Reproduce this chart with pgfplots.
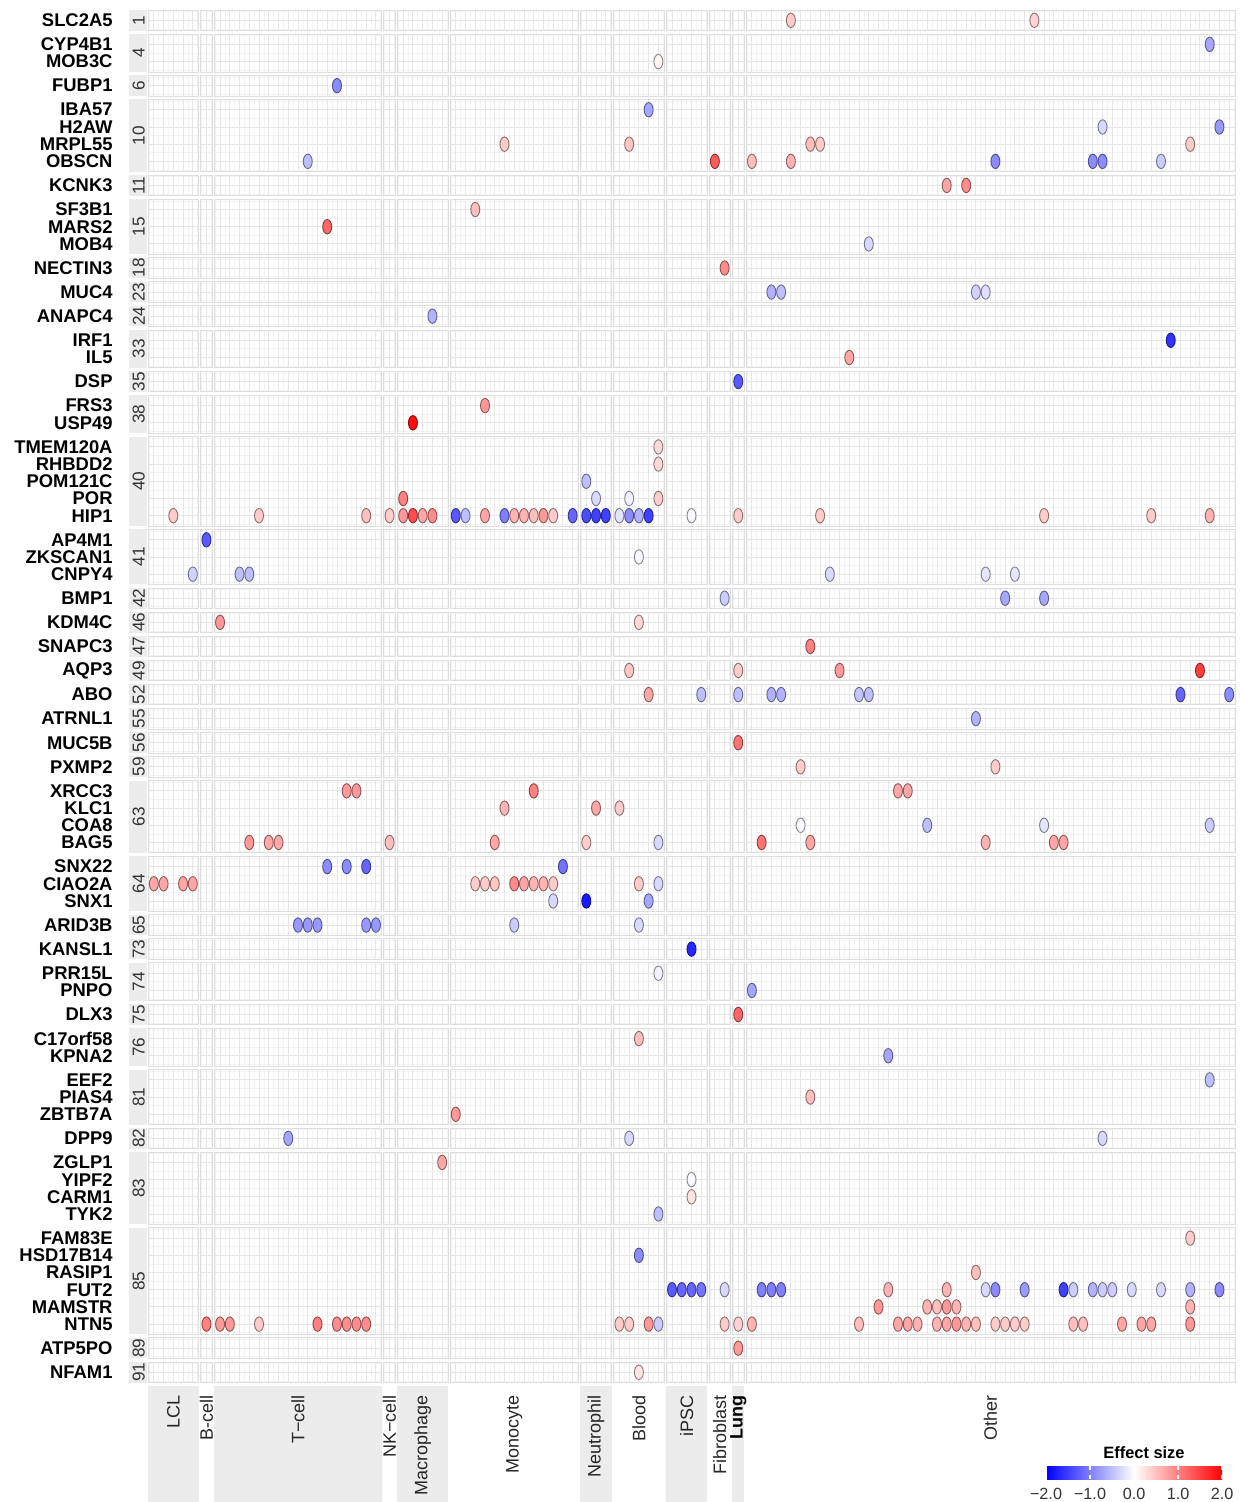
\documentclass[border=0pt]{standalone}
\usepackage{fontspec}
\setmainfont{Liberation Sans}
\usepackage{pgfplots}
\usepackage{pgfplotstable}
\pgfplotsset{compat=1.18}

\definecolor{stripgray}{RGB}{236,236,236}
\definecolor{gridmaj}{RGB}{230,230,230}
\definecolor{gridmin}{RGB}{243,243,243}
\definecolor{panelline}{RGB}{222,222,222}

% column index -> horizontal position (each cell-type group padded by 0.6 and separated by 0.2)
\pgfmathdeclarefunction{colpos}{1}{%
  \pgfmathparse{#1+0.6+0.4*((#1>4.5)+(#1>5.5)+(#1>22.5)+(#1>23.5)+(#1>28.5)+(#1>41.5)+(#1>44.5)+(#1>49.5)+(#1>53.5)+(#1>55.5)+(#1>56.5))}%
}
% gene index -> vertical position (each locus panel padded the same way)
\pgfmathdeclarefunction{rowpos}{1}{%
  \pgfmathparse{#1+0.6+0.4*((#1>0.5)+(#1>2.5)+(#1>3.5)+(#1>7.5)+(#1>8.5)+(#1>11.5)+(#1>12.5)+(#1>13.5)+(#1>14.5)+(#1>16.5)+(#1>17.5)+(#1>19.5)+(#1>24.5)+(#1>27.5)+(#1>28.5)+(#1>29.5)+(#1>30.5)+(#1>31.5)+(#1>32.5)+(#1>33.5)+(#1>34.5)+(#1>35.5)+(#1>39.5)+(#1>42.5)+(#1>43.5)+(#1>44.5)+(#1>46.5)+(#1>47.5)+(#1>49.5)+(#1>52.5)+(#1>53.5)+(#1>57.5)+(#1>63.5)+(#1>64.5))}%
}

% effect sizes: c = cell-type column, r = gene row, v = effect size
\pgfplotstableread{
c r v
61 0 0.4
86 0 0.35
104 1 -0.7
49 2 0.08
18 3 -0.9
48 4 -0.7
93 5 -0.3
105 5 -0.8
34 6 0.4
46 6 0.45
63 6 0.5
64 6 0.4
102 6 0.4
15 7 -0.5
54 7 1.3
57 7 0.5
61 7 0.6
82 7 -0.9
92 7 -0.9
93 7 -0.9
99 7 -0.4
77 8 0.7
79 8 0.9
31 9 0.5
17 10 1.2
69 11 -0.3
55 12 0.9
59 13 -0.6
60 13 -0.5
80 13 -0.35
81 13 -0.25
27 14 -0.6
100 15 -1.6
67 16 0.7
56 17 -1.3
32 18 0.8
25 19 1.9
49 20 0.3
49 21 0.3
42 22 -0.5
24 23 1.0
43 23 -0.3
46 23 -0.1
49 23 0.4
2 24 0.4
10 24 0.4
21 24 0.5
23 24 0.4
24 24 0.8
25 24 1.4
26 24 0.7
27 24 0.9
29 24 -1.3
30 24 -0.5
32 24 0.7
34 24 -1.0
35 24 0.6
36 24 0.6
37 24 0.5
38 24 0.8
39 24 0.4
41 24 -1.2
42 24 -1.4
43 24 -1.5
44 24 -1.5
45 24 -0.2
46 24 -0.9
47 24 -0.6
48 24 -1.5
52 24 -0.05
56 24 0.4
64 24 0.4
87 24 0.4
98 24 0.4
104 24 0.6
5 25 -1.3
47 26 -0.05
4 27 -0.35
8 27 -0.5
9 27 -0.5
65 27 -0.3
81 27 -0.2
84 27 -0.2
55 28 -0.4
83 28 -0.7
87 28 -0.7
6 29 0.8
47 29 0.3
63 30 1.0
46 31 0.45
56 31 0.4
66 31 0.8
103 31 1.5
48 32 0.7
53 32 -0.5
56 32 -0.5
59 32 -0.6
60 32 -0.6
68 32 -0.45
69 32 -0.5
101 32 -1.2
106 32 -0.9
80 33 -0.6
56 34 1.1
62 35 0.4
82 35 0.4
19 36 0.8
20 36 0.8
37 36 1.0
72 36 0.7
73 36 0.7
34 37 0.6
43 37 0.7
45 37 0.4
62 38 -0.05
75 38 -0.5
87 38 -0.2
104 38 -0.4
9 39 0.8
11 39 0.7
12 39 0.7
23 39 0.5
33 39 0.7
42 39 0.4
49 39 -0.3
58 39 1.1
63 39 0.7
81 39 0.6
88 39 0.7
89 39 0.7
17 40 -0.9
19 40 -0.9
21 40 -1.2
40 40 -1.1
0 41 0.7
1 41 0.7
3 41 0.7
4 41 0.7
31 41 0.4
32 41 0.4
33 41 0.45
35 41 0.9
36 41 0.7
37 41 0.6
38 41 0.6
39 41 0.4
47 41 0.4
49 41 -0.3
39 42 -0.3
42 42 -1.8
48 42 -0.7
14 43 -0.8
15 43 -0.8
16 43 -0.8
21 43 -0.8
22 43 -0.8
35 43 -0.4
47 43 -0.3
52 44 -1.7
49 45 -0.1
57 46 -0.7
56 47 1.2
47 48 0.5
71 49 -0.7
104 50 -0.5
63 51 0.5
29 52 0.8
13 53 -0.7
46 53 -0.3
93 53 -0.3
28 54 0.7
52 55 -0.05
52 56 0.2
49 57 -0.5
102 58 0.4
47 59 -0.9
80 60 0.5
50 61 -1.3
51 61 -1.2
52 61 -1.2
53 61 -1.1
55 61 -0.3
58 61 -1.0
59 61 -1.0
60 61 -1.0
71 61 0.6
77 61 0.6
81 61 -0.3
82 61 -0.9
85 61 -0.8
89 61 -1.5
90 61 -0.4
92 61 -0.6
93 61 -0.4
94 61 -0.4
96 61 -0.3
99 61 -0.3
102 61 -0.6
105 61 -0.9
70 62 0.8
75 62 0.6
76 62 0.5
77 62 0.8
78 62 0.6
102 62 0.6
5 63 1.0
6 63 0.8
7 63 0.8
10 63 0.4
16 63 1.0
18 63 0.9
19 63 0.9
20 63 0.9
21 63 0.9
45 63 0.4
46 63 0.4
48 63 0.8
49 63 -0.4
55 63 0.4
56 63 0.35
57 63 0.6
68 63 0.5
72 63 0.7
73 63 0.7
74 63 0.6
76 63 0.6
77 63 0.7
78 63 0.8
79 63 0.6
80 63 0.5
82 63 0.4
83 63 0.4
84 63 0.4
85 63 0.4
90 63 0.5
91 63 0.5
95 63 0.7
97 63 0.7
98 63 0.7
102 63 0.8
56 64 0.8
47 65 0.2
}\effects

\begin{document}
\begin{tikzpicture}
\useasboundingbox (0,0) rectangle (619.5pt,-751pt);

\begin{scope}[shift={(74pt,-5pt)}, x=4.87pt, y=-8.6pt]
  % background grid
  \foreach \c in {0,...,106} {
    \pgfmathsetmacro\u{colpos(\c)}
    \draw[gridmin, line width=0.35pt] (\u-0.5,0) -- (\u-0.5,79.8);
    \draw[gridmin, line width=0.35pt] (\u+0.5,0) -- (\u+0.5,79.8);
  }
  \foreach \r in {0,...,65} {
    \pgfmathsetmacro\v{rowpos(\r)}
    \draw[gridmin, line width=0.35pt] (0,\v-0.5) -- (111.6,\v-0.5);
    \draw[gridmin, line width=0.35pt] (0,\v+0.5) -- (111.6,\v+0.5);
  }
  \foreach \c in {0,...,106} {
    \pgfmathsetmacro\u{colpos(\c)}
    \draw[gridmaj, line width=0.45pt] (\u,0) -- (\u,79.8);
  }
  \foreach \r in {0,...,65} {
    \pgfmathsetmacro\v{rowpos(\r)}
    \draw[gridmaj, line width=0.45pt] (0,\v) -- (111.6,\v);
  }
  % gaps between panels
  \foreach \g in {5.2,6.6,24.0,25.4,30.8,44.2,47.6,53.0,57.4,59.8,61.2}
    \fill[white] (\g,-0.1) rectangle (\g+0.2,79.9);
  \foreach \lo/\hi/\lab in {0/1.2/1,1.4/3.6/4,3.8/5.0/6,5.2/9.4/10,9.6/10.8/11,11.0/14.2/15,14.4/15.6/18,15.8/17.0/23,17.2/18.4/24,18.6/20.8/33,21.0/22.2/35,22.4/24.6/38,24.8/30.0/40,30.2/33.4/41,33.6/34.8/42,35.0/36.2/46,36.4/37.6/47,37.8/39.0/49,39.2/40.4/52,40.6/41.8/55,42.0/43.2/56,43.4/44.6/59,44.8/49.0/63,49.2/52.4/64,52.6/53.8/65,54.0/55.2/73,55.4/57.6/74,57.8/59.0/75,59.2/61.4/76,61.6/64.8/81,65.0/66.2/82,66.4/70.6/83,70.8/77.0/85,77.2/78.4/89} {
    \fill[white] (-0.1,\hi) rectangle (111.7,\hi+0.2);
  }
  % panel outlines and locus strips
  \foreach \lo/\hi/\lab in {0/1.2/1,1.4/3.6/4,3.8/5.0/6,5.2/9.4/10,9.6/10.8/11,11.0/14.2/15,14.4/15.6/18,15.8/17.0/23,17.2/18.4/24,18.6/20.8/33,21.0/22.2/35,22.4/24.6/38,24.8/30.0/40,30.2/33.4/41,33.6/34.8/42,35.0/36.2/46,36.4/37.6/47,37.8/39.0/49,39.2/40.4/52,40.6/41.8/55,42.0/43.2/56,43.4/44.6/59,44.8/49.0/63,49.2/52.4/64,52.6/53.8/65,54.0/55.2/73,55.4/57.6/74,57.8/59.0/75,59.2/61.4/76,61.6/64.8/81,65.0/66.2/82,66.4/70.6/83,70.8/77.0/85,77.2/78.4/89,78.6/79.8/91} {
    \foreach \xa/\xb in {0/5.2,5.4/6.6,6.8/24.0,24.2/25.4,25.6/30.8,31.0/44.2,44.4/47.6,47.8/53.0,53.2/57.4,57.6/59.8,60.0/61.2,61.4/111.6}
      \draw[panelline, line width=0.4pt] (\xa,\lo) rectangle (\xb,\hi);
    \fill[stripgray] (-2.0,\lo) rectangle (-0.12,\hi);
    \node[rotate=90, inner sep=0pt, text=black!80, font=\fontsize{8.6}{9}\selectfont]
      at (-0.95,{(\lo+\hi)/2}) {\lab};
  }
  % gene names
  \foreach \name [count=\i from 0] in {SLC2A5,CYP4B1,MOB3C,FUBP1,IBA57,H2AW,MRPL55,OBSCN,KCNK3,SF3B1,MARS2,MOB4,NECTIN3,MUC4,ANAPC4,IRF1,IL5,DSP,FRS3,USP49,TMEM120A,RHBDD2,POM121C,POR,HIP1,AP4M1,ZKSCAN1,CNPY4,BMP1,KDM4C,SNAPC3,AQP3,ABO,ATRNL1,MUC5B,PXMP2,XRCC3,KLC1,COA8,BAG5,SNX22,CIAO2A,SNX1,ARID3B,KANSL1,PRR15L,PNPO,DLX3,C17orf58,KPNA2,EEF2,PIAS4,ZBTB7A,DPP9,ZGLP1,YIPF2,CARM1,TYK2,FAM83E,HSD17B14,RASIP1,FUT2,MAMSTR,NTN5,ATP5PO,NFAM1} {
    \pgfmathsetmacro\v{rowpos(\i)}
    \node[anchor=east, inner sep=0pt, font=\bfseries\fontsize{9.2}{10}\selectfont] at (-3.6,\v) {\name};
  }
  % cell-type strips along the bottom
  \foreach \xa/\xb in {0/5.2,6.8/24.0,25.6/30.8,44.4/47.6,53.2/57.4,60.0/61.2}
    \fill[stripgray] (\xa,80.0) rectangle (\xb,87.0);
  \foreach \xc/\lab in {2.6/LCL,6.0/B-cell,15.4/T−cell,24.8/NK−cell,28.2/Macrophage,37.6/Monocyte,46.0/Neutrophil,50.4/Blood,55.3/iPSC,58.7/Fibroblast,86.5/Other}
    \node[rotate=90, anchor=east, inner sep=0pt, text=black!85, font=\fontsize{9}{10}\selectfont] at (\xc,80.5) {\lab};
  \node[rotate=90, anchor=east, inner sep=0pt, font=\bfseries\fontsize{9}{10}\selectfont] at (60.6,80.5) {Lung};
\end{scope}

\node[font=\bfseries\fontsize{8.2}{9}\selectfont] at (572pt,-726.5pt) {Effect size};

\begin{axis}[
  at={(74pt,-5pt)}, anchor=north west,
  width=543.5pt, height=686.28pt, scale only axis,
  xmin=0, xmax=111.6, ymin=0, ymax=79.8, y dir=reverse,
  axis line style={draw=none},
  xtick=\empty, ytick=\empty,
  clip=false,
  colormap={effect}{rgb255(0cm)=(0,0,255); rgb255(1cm)=(255,255,255); rgb255(2cm)=(255,0,0)},
  point meta min=-2, point meta max=2,
  colorbar horizontal,
  colorbar style={
    at={(523pt,-724.5pt)}, anchor=north west,
    width=88pt, height=6.5pt, scale only axis,
    axis line style={draw=none},
    xtick={-2,-1,0,1,2},
    xticklabels={−2.0,−1.0,0.0,1.0,2.0},
    xticklabel style={font=\fontsize{8.1}{9}\selectfont, text=black!80, inner sep=1pt, yshift=-3.2pt},
    major tick length=1.8pt,
    xtick style={draw=white, line width=0.7pt},
    tick align=inside,
    ytick=\empty,
  },
]
\addplot[scatter, only marks, mark=*, mark size=3.6pt,
  mark options={xscale=0.62, line width=0.45pt},
  scatter/use mapped color={draw=mapped color!55!black, fill=mapped color},
  point meta=explicit]
  table[x expr={colpos(\thisrow{c})}, y expr={rowpos(\thisrow{r})}, meta=v] {\effects};
\end{axis}
\end{tikzpicture}
\end{document}
